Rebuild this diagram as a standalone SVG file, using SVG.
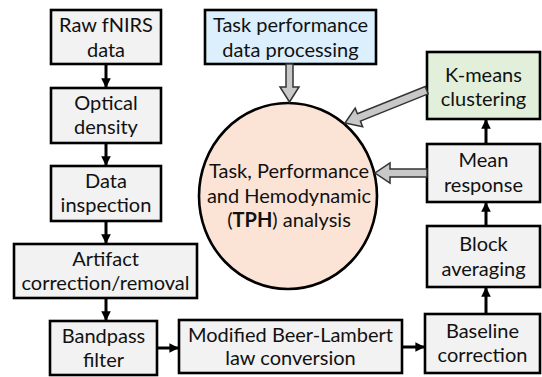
<svg xmlns="http://www.w3.org/2000/svg" width="542" height="377" viewBox="0 0 542 377">
<defs>
<style>
.box{fill:#f2f2f2;stroke:#000;stroke-width:2.6}
.blue{fill:#dceffc}
.green{fill:#e2efda}
.t{font-family:Lato,"Open Sans","Liberation Sans",sans-serif;font-size:20px;fill:#111;text-anchor:middle}
.ln{stroke:#000;stroke-width:3;fill:none;marker-end:url(#ah)}
.garrow{fill:#c8c8c8;stroke:#333;stroke-width:1.5;stroke-linejoin:miter}
</style>
<marker id="ah" viewBox="0 0 10 10" refX="9" refY="5" markerWidth="3.2" markerHeight="3.2" orient="auto" markerUnits="strokeWidth">
<path d="M0,0 L10,5 L0,10 Z" fill="#000"/>
</marker>
</defs>
<rect width="542" height="377" fill="#fff"/>

<g id="raw"><rect class="box" x="51" y="10" width="110" height="54"/><text class="t" x="106" y="32">Raw fNIRS</text><text class="t" x="106" y="57">data</text></g>
<g id="optical"><rect class="box" x="51" y="88" width="110" height="55"/><text class="t" x="106" y="110">Optical</text><text class="t" x="106" y="134">density</text></g>
<g id="inspection"><rect class="box" x="51" y="166" width="110" height="55"/><text class="t" x="106" y="188">Data</text><text class="t" x="106" y="212">inspection</text></g>
<g id="artifact"><rect class="box" x="14" y="244" width="183" height="54"/><text class="t" x="105.5" y="266">Artifact</text><text class="t" x="105.5" y="290">correction/removal</text></g>
<g id="bandpass"><rect class="box" x="50" y="321" width="107" height="54"/><text class="t" x="103.5" y="343">Bandpass</text><text class="t" x="103.5" y="367">filter</text></g>
<g id="task"><rect class="box blue" x="205" y="10" width="171" height="54"/><text class="t" x="290.5" y="32">Task performance</text><text class="t" x="290.5" y="57">data processing</text></g>
<g id="mbll"><rect class="box" x="179" y="320" width="223" height="53"/><text class="t" x="290.5" y="342">Modified Beer-Lambert</text><text class="t" x="290.5" y="365">law conversion</text></g>
<g id="baseline"><rect class="box" x="425" y="314" width="115" height="59"/><text class="t" x="482.5" y="338">Baseline</text><text class="t" x="482.5" y="362">correction</text></g>
<g id="block"><rect class="box" x="427" y="226" width="113" height="61"/><text class="t" x="483.5" y="251">Block</text><text class="t" x="483.5" y="276">averaging</text></g>
<g id="mean"><rect class="box" x="427" y="144" width="113" height="58"/><text class="t" x="483.5" y="167">Mean</text><text class="t" x="483.5" y="192">response</text></g>
<g id="kmeans"><rect class="box green" x="427" y="52" width="113" height="67"/><text class="t" x="483.5" y="82">K-means</text><text class="t" x="483.5" y="106">clustering</text></g>
<g id="tph"><ellipse cx="288" cy="196" rx="89" ry="93" fill="#fbe4d6" stroke="#000" stroke-width="2.6"/><text class="t" x="289" y="178">Task, Performance</text><text class="t" x="289" y="203">and Hemodynamic</text><text class="t" x="289" y="227">(<tspan font-weight="bold">TPH</tspan>) analysis</text></g>

<g id="connectors">
<line class="ln" x1="106" y1="65" x2="106" y2="87"/>
<line class="ln" x1="106" y1="144" x2="106" y2="165"/>
<line class="ln" x1="106" y1="222" x2="106" y2="243"/>
<line class="ln" x1="106" y1="299" x2="106" y2="320"/>
<line class="ln" x1="158" y1="348" x2="178" y2="348"/>
<line class="ln" x1="403" y1="347" x2="424" y2="347"/>
<line class="ln" x1="486" y1="313" x2="486" y2="288"/>
<line class="ln" x1="486" y1="225" x2="486" y2="203"/>
<line class="ln" x1="486" y1="143" x2="486" y2="120"/>
<polygon class="garrow" transform="translate(289.5,102) rotate(90)" points="-38,-3.5 -15,-3.5 -15,-9.5 0,0 -15,9.5 -15,3.5 -38,3.5"/>
<polygon class="garrow" transform="translate(375,173) rotate(180)" points="-52,-4 -15,-4 -15,-10 0,0 -15,10 -15,4 -52,4"/>
<polygon class="garrow" transform="translate(345,123) rotate(158.1)" points="-88,-4 -15,-4 -15,-10 0,0 -15,10 -15,4 -88,4"/>
</g>
</svg>
